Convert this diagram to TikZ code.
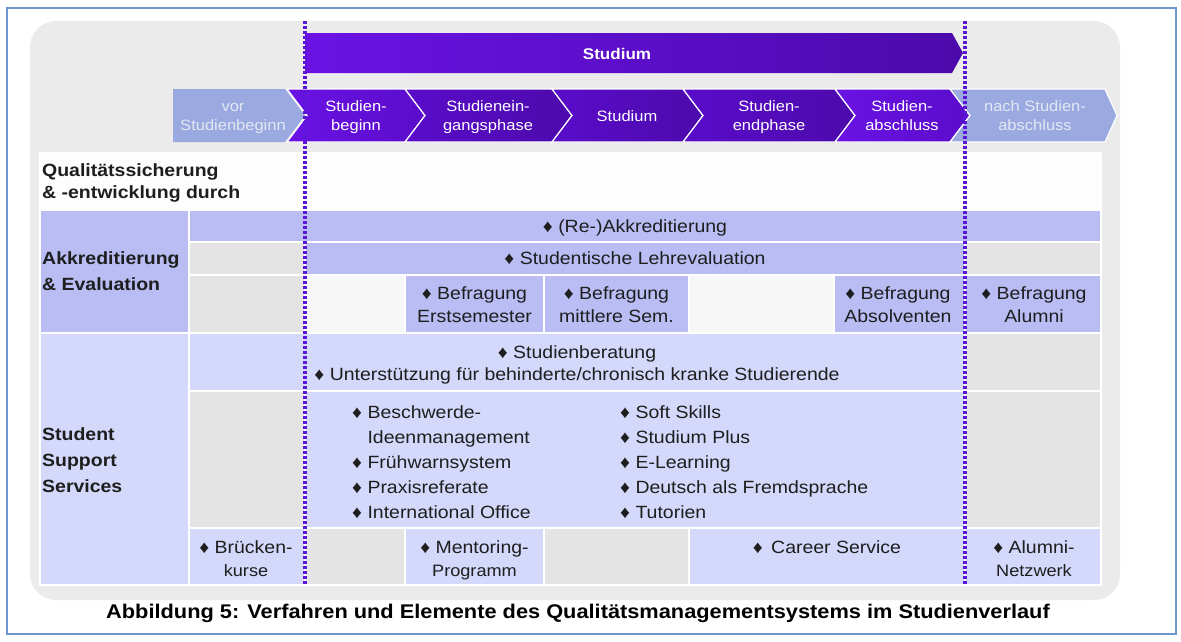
\documentclass[tikz,border=0pt]{standalone}
\usepackage{fontspec}
\setmainfont{Liberation Sans}[FakeStretch=1.1]
\definecolor{framec}{HTML}{6D95CF}
\definecolor{bgc}{HTML}{EBEBEB}
\definecolor{akkc}{HTML}{B9BDF4}
\definecolor{sssc}{HTML}{D4D8FB}
\definecolor{grayc}{HTML}{E4E4E4}
\definecolor{whitec}{HTML}{F7F7F7}
\definecolor{paperc}{HTML}{FDFDFD}
\definecolor{lightchev}{HTML}{9AAAE0}
\definecolor{lighttext}{HTML}{E4E7F2}
\definecolor{dotc}{HTML}{5C16D8}
\definecolor{textc}{HTML}{1E1E1E}
\definecolor{purA}{HTML}{6A12E4}
\definecolor{purB}{HTML}{5A0CCA}
\definecolor{purC}{HTML}{4C0AAC}
\begin{document}
\begin{tikzpicture}[x=1pt,y=-1pt,
  cell/.style={draw=white, line width=1.6pt},
  akk/.style={cell, fill=akkc},
  sss/.style={cell, fill=sssc},
  grc/.style={cell, fill=grayc},
  whc/.style={cell, fill=whitec},
  chev/.style={draw=white, line width=1.2pt},
  ctext/.style={font=\fontsize{15}{19.5}\selectfont, text=white, align=center, inner sep=0pt, anchor=base},
  ltext/.style={ctext, text=lighttext},
  body/.style={font=\fontsize{17.7}{23}\selectfont, text=textc, inner sep=0pt, anchor=base, align=center},
  lbl/.style={font=\bfseries\fontsize{17.7}{26.3}\selectfont, text=textc, inner sep=0pt, anchor=base west, align=left},
  dotline/.style={draw=dotc, line width=3.6pt, dash pattern=on 2.6pt off 2.4pt}
]
\useasboundingbox (0,0) rectangle (1181,641);
% frame and background
\draw[framec, line width=1.4pt] (7,8) rectangle (1176,634);
\fill[bgc, rounded corners=26pt] (30,21) rectangle (1120,600);

% Studium bar
\shade[left color=purA, right color=purC] (305,33) -- (952,33) -- (963,53) -- (952,73) -- (305,73) -- cycle;
\node[font=\bfseries\fontsize{15.5}{18}\selectfont, text=white, inner sep=0pt, anchor=base] (studbar) at (617,59) {Studium};

% chevrons
\fill[lightchev] (173,89) -- (285,89) -- (305,115.5) -- (285,142) -- (173,142) -- cycle;
\shade[chev, left color=purA, right color=purB] (287,89) -- (405,89) -- (425,115.5) -- (405,142) -- (287,142) -- (307,115.5) -- cycle;
\shade[chev, left color=purB, right color=purC] (405,89) -- (552,89) -- (572,115.5) -- (552,142) -- (405,142) -- (425,115.5) -- cycle;
\shade[chev, left color=purB, right color=purC] (552,89) -- (683,89) -- (703,115.5) -- (683,142) -- (552,142) -- (572,115.5) -- cycle;
\shade[chev, left color=purB, right color=purC] (683,89) -- (835,89) -- (855,115.5) -- (835,142) -- (683,142) -- (703,115.5) -- cycle;
\shade[chev, left color=purA, right color=purB] (835,89) -- (950,89) -- (970,115.5) -- (950,142) -- (835,142) -- (855,115.5) -- cycle;
\filldraw[chev, fill=lightchev] (950,89) -- (1105,89) -- (1117,115.5) -- (1105,142) -- (950,142) -- (970,115.5) -- cycle;

\node[ltext] (c1) at (233,130.5) {vor\\Studienbeginn};
\node[ctext] (c2) at (356,130.5) {Studien-\\beginn};
\node[ctext] (c3) at (488,130.5) {Studienein-\\gangsphase};
\node[ctext] (c4) at (627,121) {Studium};
\node[ctext] (c5) at (769,130.5) {Studien-\\endphase};
\node[ctext] (c6) at (902,130.5) {Studien-\\abschluss};
\node[ltext] (c7) at (1035,130.5) {nach Studien-\\abschluss};

% grid
\path[cell, fill=paperc] (40,153) rectangle (1101,210);
\path[akk] (40,210) rectangle (189,333);
\path[sss] (40,333) rectangle (189,585);
% Re-Akkreditierung row
\path[akk] (189,210) rectangle (1101,242);
% Lehrevaluation row
\path[grc] (189,242) rectangle (305,275);
\path[akk] (305,242) rectangle (965,275);
\path[grc] (965,242) rectangle (1101,275);
% Befragung row
\path[grc] (189,275) rectangle (305,333);
\path[whc] (305,275) rectangle (405,333);
\path[akk] (405,275) rectangle (544,333);
\path[akk] (544,275) rectangle (689,333);
\path[whc] (689,275) rectangle (834,333);
\path[akk] (834,275) rectangle (965,333);
\path[akk] (965,275) rectangle (1101,333);
% Studienberatung row
\path[sss] (189,333) rectangle (965,391);
\path[grc] (965,333) rectangle (1101,391);
% list row
\path[grc] (189,391) rectangle (305,528);
\path[sss] (305,391) rectangle (965,528);
\path[grc] (965,391) rectangle (1101,528);
% bottom row
\path[sss] (189,528) rectangle (305,585);
\path[grc] (305,528) rectangle (405,585);
\path[sss] (405,528) rectangle (544,585);
\path[grc] (544,528) rectangle (689,585);
\path[sss] (689,528) rectangle (965,585);
\path[sss] (965,528) rectangle (1101,585);

% dotted lines
\draw[dotline] (305,21) -- (305,585);
\draw[dotline] (965,21) -- (965,585);

% labels
\node[lbl, font=\bfseries\fontsize{17.7}{22}\selectfont] (qs) at (42,198) {Qualitätssicherung\\\& -entwicklung durch};
\node[lbl] (ae) at (42,290.3) {Akkreditierung\\\& Evaluation};
\node[lbl] (sss) at (42,492.6) {Student\\Support\\Services};

% Akkreditierung & Evaluation content
\node[body] (reakk) at (635,232) {♦ (Re-)Akkreditierung};
\node[body] (lehr) at (635,264.5) {♦ Studentische Lehrevaluation};
\node[body] (b1) at (474.5,322) {♦ Befragung\\Erstsemester};
\node[body] (b2) at (616.5,322) {♦ Befragung\\mittlere Sem.};
\node[body] (b3) at (898,322) {♦ Befragung\\Absolventen};
\node[body] (b4) at (1034,322) {♦ Befragung\\Alumni};

% Student Support Services content
\node[body, font=\fontsize{17.7}{22}\selectfont] (sb) at (577,380) {♦ Studienberatung\\♦ Unterstützung für behinderte/chronisch kranke Studierende};
\node[body, anchor=base west, align=left, font=\fontsize{17.7}{25}\selectfont] (listl) at (352,518) {♦ Beschwerde-\\\hphantom{♦ }Ideenmanagement\\♦ Frühwarnsystem\\♦ Praxisreferate\\♦ International Office};
\node[body, anchor=base west, align=left, font=\fontsize{17.7}{25}\selectfont] (listr) at (620,518) {♦ Soft Skills\\♦ Studium Plus\\♦ E-Learning\\♦ Deutsch als Fremdsprache\\♦ Tutorien};
\node[body] (bk) at (246,576) {♦ Brücken-\\{\fontsize{16.5}{23}\selectfont kurse}};
\node[body] (mp) at (474.5,576) {♦ Mentoring-\\{\fontsize{16.5}{23}\selectfont Programm}};
\node[body] (cs) at (827,553) {♦ \,Career Service};
\node[body] (an) at (1034,576) {♦ Alumni-\\{\fontsize{16.5}{23}\selectfont Netzwerk}};

% caption
\node[font=\bfseries\fontsize{19.8}{24}\selectfont, text=black, inner sep=0pt, anchor=base] (cap) at (578,618) {Abbildung 5: Verfahren und Elemente des Qualitätsmanagementsystems im Studienverlauf};
\end{tikzpicture}
\end{document}
